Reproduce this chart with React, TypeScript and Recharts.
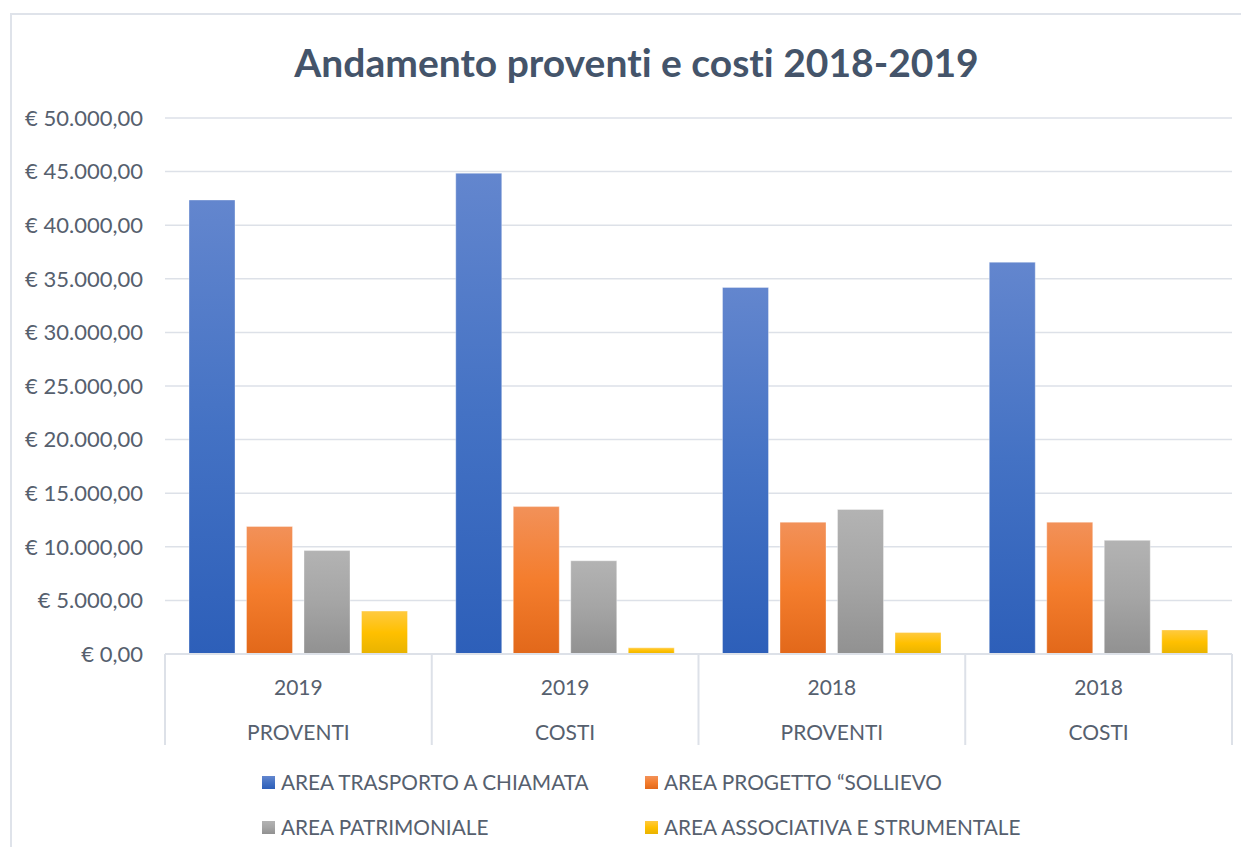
import React from 'react';
import { BarChart, Bar, XAxis, YAxis, CartesianGrid, Legend } from 'recharts';

const years = ['2019', '2019', '2018', '2018'];
const kinds = ['PROVENTI', 'COSTI', 'PROVENTI', 'COSTI'];
const trasporto = [42350, 44850, 34200, 36550];
const sollievo = [11900, 13750, 12300, 12300];
const patrimoniale = [9650, 8700, 13480, 10600];
const associativa = [4000, 580, 2000, 2250];
const seriesNames = [
  'AREA TRASPORTO A CHIAMATA',
  'AREA PROGETTO “SOLLIEVO',
  'AREA PATRIMONIALE',
  'AREA ASSOCIATIVA E STRUMENTALE',
];
const yTicks = [0, 5000, 10000, 15000, 20000, 25000, 30000, 35000, 40000, 45000, 50000];
const title = 'Andamento proventi e costi 2018-2019';

const data = years.map((y, i) => ({
  id: String(i),
  s0: trasporto[i],
  s1: sollievo[i],
  s2: patrimoniale[i],
  s3: associativa[i],
}));

const FONT = 'Lato, "Noto Sans", sans-serif';
const TEXT = '#56606e';
const GRID = '#dde1e8';

const gradients = [
  { id: 'gBlue', top: '#6386ce', mid: '#4472c4', bot: '#2d5fb9' },
  { id: 'gOrange', top: '#f29159', mid: '#f47d2d', bot: '#e2681a' },
  { id: 'gGray', top: '#b3b3b3', mid: '#a5a5a5', bot: '#919191' },
  { id: 'gYellow', top: '#ffca40', mid: '#ffc000', bot: '#e8b300' },
];

const fmt = (v: number) => {
  const int = Math.round(v).toString().replace(/\B(?=(\d{3})+(?!\d))/g, '.');
  return '€ ' + int + ',00';
};

const CatTick = (props: any) => {
  const { x, y, payload, width, index } = props;
  const n = years.length;
  const band = (width || 1067) / n;
  const i = payload && typeof payload.index === 'number' ? payload.index : index;
  return (
    <g>
      <line x1={x - band / 2} x2={x - band / 2} y1={y} y2={y + 91} stroke={GRID} strokeWidth={2} />
      {i === n - 1 && (
        <line x1={x + band / 2} x2={x + band / 2} y1={y} y2={y + 91} stroke={GRID} strokeWidth={2} />
      )}
      <text x={x} y={y + 32} textAnchor="middle" dominantBaseline="central" fill={TEXT} fontSize={21} fontFamily={FONT}>
        {years[i]}
      </text>
      <text x={x} y={y + 77} textAnchor="middle" dominantBaseline="central" fill={TEXT} fontSize={21} fontFamily={FONT}>
        {kinds[i]}
      </text>
    </g>
  );
};

const LegendContent = () => {
  const cols = [254, 637];
  const rows = [28, 73];
  return (
    <div style={{ position: 'relative', width: '100%', height: 93, fontFamily: FONT }}>
      {seriesNames.map((name, i) => {
        const cx = cols[i % 2];
        const cy = rows[Math.floor(i / 2)];
        const g = gradients[i];
        return (
          <div key={name}>
            <div
              style={{
                position: 'absolute',
                left: cx,
                top: cy - 6,
                width: 13,
                height: 13,
                background: `linear-gradient(${g.top}, ${g.mid}, ${g.bot})`,
              }}
            />
            <div
              style={{
                position: 'absolute',
                left: cx + 19,
                top: cy - 14,
                height: 28,
                lineHeight: '28px',
                fontSize: 20.8,
                color: TEXT,
                whiteSpace: 'nowrap',
              }}
            >
              {name}
            </div>
          </div>
        );
      })}
    </div>
  );
};

export default function App() {
  return (
    <div style={{ position: 'relative', width: 1241, height: 839, overflow: 'hidden', background: '#fff' }}>
      <div
        style={{
          position: 'absolute',
          left: 2,
          top: 5,
          width: 2000,
          height: 2000,
          border: '2px solid #dfe3ea',
          boxSizing: 'border-box',
        }}
      />
      <div style={{ position: 'absolute', left: 0, top: 0 }}>
        <BarChart
          width={1241}
          height={839}
          data={data}
          margin={{ top: 110, right: 17, bottom: 0, left: 0 }}
          barCategoryGap="9%"
          barGap={11.5}
        >
          <defs>
            {gradients.map((g) => (
              <linearGradient key={g.id} id={g.id} x1="0" y1="0" x2="0" y2="1">
                <stop offset="0%" stopColor={g.top} />
                <stop offset="50%" stopColor={g.mid} />
                <stop offset="100%" stopColor={g.bot} />
              </linearGradient>
            ))}
          </defs>
          <CartesianGrid vertical={false} stroke={GRID} strokeWidth={1.5} />
          <XAxis
            dataKey="id"
            height={100}
            interval={0}
            tickLine={false}
            tickSize={0}
            tickMargin={0}
            axisLine={{ stroke: GRID, strokeWidth: 2 }}
            tick={<CatTick />}
          />
          <YAxis
            type="number"
            domain={[0, 50000]}
            ticks={yTicks}
            interval={0}
            width={157}
            axisLine={false}
            tickLine={false}
            tickSize={0}
            tickMargin={22}
            tickFormatter={fmt}
            tick={{ fill: TEXT, fontSize: 22, fontFamily: FONT }}
          />
          <Legend verticalAlign="bottom" align="left" content={<LegendContent />} wrapperStyle={{ height: 93 }} />
          {['s0', 's1', 's2', 's3'].map((k, i) => (
            <Bar
              key={k}
              dataKey={k}
              name={seriesNames[i]}
              fill={`url(#${gradients[i].id})`}
              stroke="#ffffff"
              strokeOpacity={0.35}
              strokeWidth={1}
              isAnimationActive={false}
            />
          ))}
        </BarChart>
      </div>
      <div
        style={{
          position: 'absolute',
          left: 0,
          top: 31,
          width: 1257,
          textAlign: 'center',
          fontFamily: FONT,
          fontWeight: 700,
          fontSize: 39,
          lineHeight: '46px',
          color: '#44546a',
          fontVariantLigatures: 'none',
        }}
      >
        {title}
      </div>
    </div>
  );
}
